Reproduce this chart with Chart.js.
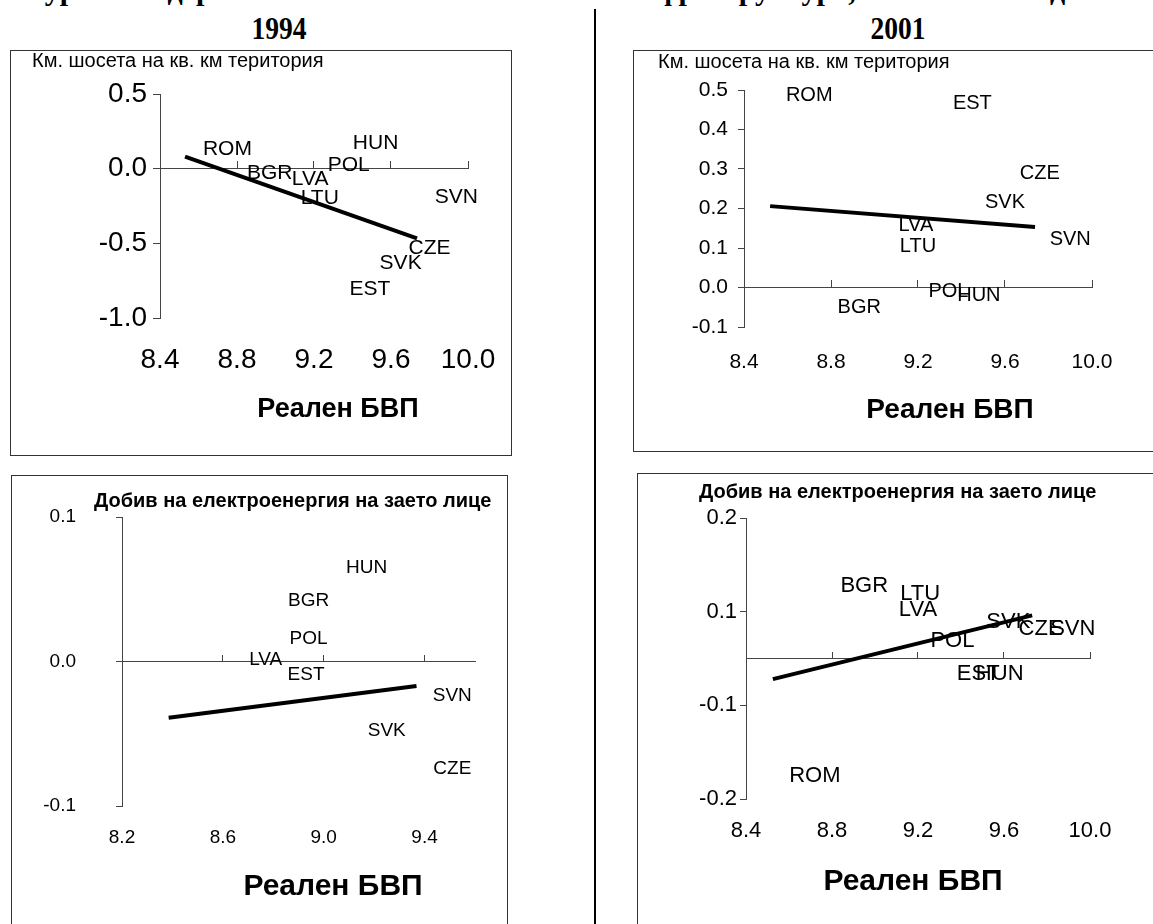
<!DOCTYPE html>
<html>
<head>
<meta charset="utf-8">
<script src="https://cdn.jsdelivr.net/npm/chart.js@4.4.1/dist/chart.umd.min.js"></script>
<style>
  html, body { margin:0; padding:0; background:#fff; }
  body { width:1153px; height:924px; overflow:hidden; position:relative; font-family:"Liberation Sans", Arial, sans-serif; }
  .panel { position:absolute; border:1px solid #333; box-sizing:border-box; background:#fff; overflow:hidden; }
  .panel canvas { position:absolute; left:0; top:0; }
  .year { position:absolute; width:120px; text-align:center; font:bold 32px/1 "Liberation Serif", "Times New Roman", serif; transform:scaleX(0.86); color:#000; }
  #topTitle { position:absolute; left:-12px; top:-25px; white-space:nowrap; font:bold 30px/1 "Liberation Serif", "Times New Roman", serif; color:#000; }
  #divider { position:absolute; left:594px; top:9px; width:2px; height:915px; background:#000; }
</style>
</head>
<body>
<div id="topTitle">Фигура 3. Федерални показатели за базисната инфраструктура, 1994 и 2001 год.</div>
<div class="year" style="left:219px; top:12px;">1994</div>
<div class="year" style="left:838px; top:12px;">2001</div>
<div id="divider"></div>

<div class="panel" style="left:10px; top:50px; width:502px; height:406px;"><canvas id="cTL" width="500" height="404"></canvas></div>
<div class="panel" style="left:633px; top:50px; width:530px; height:402px;"><canvas id="cTR" width="520" height="400"></canvas></div>
<div class="panel" style="left:11px; top:475px; width:497px; height:470px;"><canvas id="cBL" width="495" height="449"></canvas></div>
<div class="panel" style="left:637px; top:473px; width:530px; height:470px;"><canvas id="cBR" width="516" height="451"></canvas></div>

<script>
// ---------------- DATA ----------------
const X_TITLE = "Реален БВП";
const ROAD_TITLE = "Км. шосета на кв. км територия";
const POWER_TITLE = "Добив на електроенергия на заето лице";

const XTICKS_WIDE = [8.4, 8.8, 9.2, 9.6, 10.0];
const XTICKS_NARROW = [8.2, 8.6, 9.0, 9.4];

// 1994 - roads
const ROAD94_CODES = ["ROM", "HUN", "BGR", "LVA", "POL", "LTU", "SVN", "CZE", "SVK", "EST"];
const ROAD94_GDP   = [8.75, 9.52, 8.97, 9.18, 9.38, 9.23, 9.94, 9.80, 9.65, 9.49];
const ROAD94_VAL   = [0.13, 0.17, -0.03, -0.07, 0.02, -0.20, -0.19, -0.53, -0.63, -0.81];
const ROAD94_FIT_GDP = [8.53, 9.735];
const ROAD94_FIT_VAL = [0.08, -0.467];
const ROAD94_YTICKS = [-1.0, -0.5, 0.0, 0.5];
const ROAD94_YLABELS = ["-1.0", "-0.5", "0.0", "0.5"];

// 2001 - roads
const ROAD01_CODES = ["ROM", "EST", "CZE", "SVK", "LVA", "LTU", "SVN", "BGR", "POL", "HUN"];
const ROAD01_GDP   = [8.70, 9.45, 9.76, 9.60, 9.19, 9.20, 9.90, 8.93, 9.34, 9.48];
const ROAD01_VAL   = [0.486, 0.467, 0.288, 0.215, 0.157, 0.105, 0.122, -0.05, -0.009, -0.02];
const ROAD01_FIT_GDP = [8.52, 9.738];
const ROAD01_FIT_VAL = [0.206, 0.153];
const ROAD01_YTICKS = [-0.1, 0.0, 0.1, 0.2, 0.3, 0.4, 0.5];
const ROAD01_YLABELS = ["-0.1", "0.0", "0.1", "0.2", "0.3", "0.4", "0.5"];

// 1994 - electricity
const POWER94_CODES = ["HUN", "BGR", "POL", "LVA", "EST", "SVN", "SVK", "CZE"];
const POWER94_GDP   = [9.17, 8.94, 8.94, 8.77, 8.93, 9.51, 9.25, 9.51];
const POWER94_VAL   = [0.065, 0.042, 0.016, 0.001, -0.009, -0.024, -0.048, -0.074];
const POWER94_FIT_GDP = [8.385, 9.368];
const POWER94_FIT_VAL = [-0.039, -0.017];
const POWER94_YTICKS = [-0.1, 0.0, 0.1];
const POWER94_YLABELS = ["-0.1", "0.0", "0.1"];

// 2001 - electricity
const POWER01_CODES = ["BGR", "LTU", "LVA", "SVK", "CZE", "SVN", "POL", "EST", "HUN", "ROM"];
const POWER01_GDP   = [8.95, 9.21, 9.20, 9.62, 9.77, 9.92, 9.36, 9.48, 9.58, 8.72];
const POWER01_VAL   = [0.077, 0.069, 0.052, 0.039, 0.032, 0.032, 0.019, -0.017, -0.017, -0.125];
const POWER01_FIT_GDP = [8.525, 9.731];
const POWER01_FIT_VAL = [-0.022, 0.046];
const POWER01_YTICKS = [-0.15, -0.05, 0.05, 0.15];
const POWER01_YLABELS = ["-0.2", "-0.1", "0.1", "0.2"];

// ---------------- PLUGINS ----------------
const FONT = "'Liberation Sans', Arial, sans-serif";
const AXIS_COLOR = "#444";

const codeLabelPlugin = {
  id: 'codeLabels',
  afterDatasetsDraw(chart, args, opts) {
    const meta = chart.getDatasetMeta(0);
    const ctx = chart.ctx;
    ctx.save();
    ctx.fillStyle = '#000';
    ctx.font = opts.size + 'px ' + FONT;
    ctx.textAlign = 'center';
    ctx.textBaseline = 'middle';
    meta.data.forEach((pt, i) => { ctx.fillText(opts.codes[i], pt.x, pt.y); });
    ctx.restore();
  }
};

// axis titles: y title sits horizontally above the plot, x title below the tick labels
const axisTitlePlugin = {
  id: 'axisTitles',
  afterDraw(chart, args, opts) {
    const ctx = chart.ctx;
    ctx.save();
    ctx.fillStyle = '#000';
    ctx.textBaseline = 'middle';
    ctx.font = opts.yWeight + ' ' + opts.ySize + 'px ' + FONT;
    ctx.textAlign = 'left';
    ctx.fillText(opts.yText, opts.yX, opts.yY);
    ctx.font = 'bold ' + opts.xSize + 'px ' + FONT;
    ctx.textAlign = 'center';
    ctx.fillText(opts.xText, opts.xX, opts.xY);
    ctx.restore();
  }
};

function clearScalePadding(s) {
  s.paddingTop = 0; s.paddingBottom = 0; s.paddingLeft = 0; s.paddingRight = 0;
}

// ---------------- BUILDER ----------------
function buildPanel(id, g, d) {
  const pts = d.gdp.map((x, i) => ({ x: x, y: d.val[i] }));
  const fit = d.fitX.map((x, i) => ({ x: x, y: d.fitY[i] }));
  const xTickSetter = s => { s.ticks = d.xticks.map(v => ({ value: v })); };
  new Chart(document.getElementById(id), {
    type: 'scatter',
    data: {
      datasets: [
        { label: 'countries', data: pts, pointRadius: 0, pointHoverRadius: 0, showLine: false, xAxisID: 'x', yAxisID: 'y' },
        { type: 'line', label: 'fit', data: fit, borderColor: '#000', borderWidth: g.fitW, pointRadius: 0, fill: false, tension: 0, xAxisID: 'x', yAxisID: 'y' }
      ]
    },
    options: {
      responsive: false,
      animation: false,
      events: [],
      layout: { padding: { left: 0, right: g.padR, top: g.padT, bottom: 0 } },
      plugins: {
        legend: { display: false },
        tooltip: { enabled: false },
        title: { display: false },
        codeLabels: { codes: d.codes, size: g.codeSize },
        axisTitles: { yText: d.yTitle, yX: g.ytX, yY: g.ytY, ySize: g.ytSize, yWeight: g.ytWeight,
                      xText: X_TITLE, xX: g.xtX, xY: g.xtY, xSize: g.xtSize }
      },
      scales: {
        x: {
          type: 'linear', position: 'bottom', min: d.xmin, max: d.xmax,
          border: { display: false },
          grid: { display: false, drawTicks: false },
          ticks: { color: '#000', font: { family: FONT, size: g.tickSize }, padding: g.xTickPad, maxRotation: 0, autoSkip: false,
                   callback: v => v.toFixed(1) },
          afterBuildTicks: xTickSetter,
          afterFit: s => { s.height = g.xAxisH; clearScalePadding(s); }
        },
        x0: {
          type: 'linear', position: { y: 0 }, min: d.xmin, max: d.xmax,
          border: { display: true, color: AXIS_COLOR, width: 1 },
          grid: { display: true, drawOnChartArea: false, drawTicks: true, tickLength: -g.xTickLen, color: AXIS_COLOR, lineWidth: 1 },
          ticks: { display: false },
          afterBuildTicks: xTickSetter,
          afterFit: s => { s.height = 0; clearScalePadding(s); }
        },
        y: {
          type: 'linear', position: 'left', min: d.ymin, max: d.ymax,
          border: { display: true, color: AXIS_COLOR, width: 1 },
          grid: { display: true, drawOnChartArea: false, drawTicks: true, tickLength: g.yTickLen, color: AXIS_COLOR, lineWidth: 1 },
          ticks: { color: '#000', font: { family: FONT, size: g.tickSize }, padding: g.yTickPad,
                   callback: (v, i) => d.ylabels[i] },
          afterBuildTicks: s => { s.ticks = d.yticks.map(v => ({ value: v })); },
          afterFit: s => { s.width = g.yAxisW; clearScalePadding(s); }
        }
      }
    },
    plugins: [codeLabelPlugin, axisTitlePlugin]
  });
}

// top-left: 1994 roads (canvas origin 11,51)
buildPanel('cTL',
  { padR: 43, padT: 43, yAxisW: 149, xAxisH: 137, tickSize: 28, xTickPad: 25, yTickPad: 6, yTickLen: 7, xTickLen: 8, fitW: 4,
    codeSize: 21, ytX: 21, ytY: 10, ytSize: 20, ytWeight: 'normal', xtX: 327, xtY: 359, xtSize: 27 },
  { codes: ROAD94_CODES, gdp: ROAD94_GDP, val: ROAD94_VAL, fitX: ROAD94_FIT_GDP, fitY: ROAD94_FIT_VAL,
    xmin: 8.4, xmax: 10.0, ymin: -1.0, ymax: 0.5, xticks: XTICKS_WIDE, yticks: ROAD94_YTICKS, ylabels: ROAD94_YLABELS,
    yTitle: ROAD_TITLE });

// top-right: 2001 roads (canvas origin 634,51)
buildPanel('cTR',
  { padR: 62, padT: 39, yAxisW: 110, xAxisH: 124, tickSize: 21, xTickPad: 23, yTickPad: 10, yTickLen: 6, xTickLen: 8, fitW: 4,
    codeSize: 20, ytX: 24, ytY: 11, ytSize: 20, ytWeight: 'normal', xtX: 316, xtY: 359, xtSize: 28 },
  { codes: ROAD01_CODES, gdp: ROAD01_GDP, val: ROAD01_VAL, fitX: ROAD01_FIT_GDP, fitY: ROAD01_FIT_VAL,
    xmin: 8.4, xmax: 10.0, ymin: -0.1, ymax: 0.5, xticks: XTICKS_WIDE, yticks: ROAD01_YTICKS, ylabels: ROAD01_YLABELS,
    yTitle: ROAD_TITLE });

// bottom-left: 1994 electricity (canvas origin 12,476)
buildPanel('cBL',
  { padR: 32, padT: 41, yAxisW: 110, xAxisH: 119, tickSize: 19, xTickPad: 20, yTickPad: 40, yTickLen: 6, xTickLen: 7, fitW: 4,
    codeSize: 19, ytX: 82, ytY: 25, ytSize: 20, ytWeight: 'bold', xtX: 321, xtY: 411, xtSize: 30 },
  { codes: POWER94_CODES, gdp: POWER94_GDP, val: POWER94_VAL, fitX: POWER94_FIT_GDP, fitY: POWER94_FIT_VAL,
    xmin: 8.2, xmax: 9.6, ymin: -0.1, ymax: 0.1, xticks: XTICKS_NARROW, yticks: POWER94_YTICKS, ylabels: POWER94_YLABELS,
    yTitle: POWER_TITLE });

// bottom-right: 2001 electricity (canvas origin 638,474)
buildPanel('cBR',
  { padR: 64, padT: 44, yAxisW: 108, xAxisH: 126, tickSize: 22, xTickPad: 19, yTickPad: 3, yTickLen: 6, xTickLen: 7, fitW: 4,
    codeSize: 22, ytX: 61, ytY: 18, ytSize: 20, ytWeight: 'bold', xtX: 275, xtY: 408, xtSize: 30 },
  { codes: POWER01_CODES, gdp: POWER01_GDP, val: POWER01_VAL, fitX: POWER01_FIT_GDP, fitY: POWER01_FIT_VAL,
    xmin: 8.4, xmax: 10.0, ymin: -0.15, ymax: 0.15, xticks: XTICKS_WIDE, yticks: POWER01_YTICKS, ylabels: POWER01_YLABELS,
    yTitle: POWER_TITLE });
</script>
</body>
</html>
